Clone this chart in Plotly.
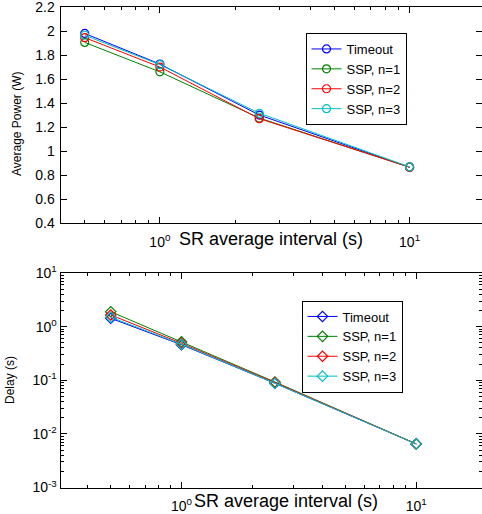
import plotly.graph_objects as go

# ---------------- data ----------------
sr_interval = [0.5, 1.0, 2.5, 10.0]
series_names = ["Timeout", "SSP, n=1", "SSP, n=2", "SSP, n=3"]
colors = ["#0000ff", "#008000", "#ff0000", "#00bfbf"]

power_timeout = [1.98, 1.725, 1.30, 0.865]
power_ssp1 = [1.905, 1.66, 1.275, 0.865]
power_ssp2 = [1.945, 1.70, 1.27, 0.865]
power_ssp3 = [1.965, 1.72, 1.315, 0.868]

delay_timeout = [1.43, 0.46, 0.088, 0.0065]
delay_ssp1 = [1.9, 0.52, 0.093, 0.0065]
delay_ssp2 = [1.65, 0.49, 0.091, 0.0065]
delay_ssp3 = [1.5, 0.47, 0.088, 0.0065]

power_series = [power_timeout, power_ssp1, power_ssp2, power_ssp3]
delay_series = [delay_timeout, delay_ssp1, delay_ssp2, delay_ssp3]

x_major_vals = [1, 10]
x_major_text = ["10<sup>0</sup>", "10<sup>1</sup>"]
x_minor_vals = [0.3, 0.4, 0.5, 0.6, 0.7, 0.8, 0.9, 2, 3, 4, 5, 6, 7, 8, 9, 20]
y1_major_vals = [0.4, 0.6, 0.8, 1.0, 1.2, 1.4, 1.6, 1.8, 2.0, 2.2]
y1_major_text = ["0.4", "0.6", "0.8", "1", "1.2", "1.4", "1.6", "1.8", "2", "2.2"]
y2_major_vals = [1e-3, 1e-2, 1e-1, 1, 10]
y2_major_text = ["10<sup>-3</sup>", "10<sup>-2</sup>", "10<sup>-1</sup>", "10<sup>0</sup>", "10<sup>1</sup>"]
y2_minor_vals = [m * 10 ** e for e in range(-3, 1) for m in range(2, 10)]

FONT = "Liberation Sans, Arial, Helvetica, sans-serif"
W, H = 482, 514

fig = go.Figure()

for name, col, ys in zip(series_names, colors, power_series):
    fig.add_trace(go.Scatter(
        x=sr_interval, y=ys, name=name, mode="lines+markers",
        line=dict(color=col, width=1),
        marker=dict(symbol="circle-open", size=8, color=col, line=dict(width=1.2)),
        xaxis="x", yaxis="y", legend="legend"))

for name, col, ys in zip(series_names, colors, delay_series):
    fig.add_trace(go.Scatter(
        x=sr_interval, y=ys, name=name, mode="lines+markers",
        line=dict(color=col, width=1),
        marker=dict(symbol="diamond-open", size=8, color=col, line=dict(width=1.2)),
        xaxis="x2", yaxis="y2", legend="legend2"))

common_axis = dict(showgrid=False, zeroline=False, showline=True, linecolor="black",
                   linewidth=1, mirror="allticks", ticks="inside", ticklen=6,
                   tickcolor="black", automargin=False, ticklabeloverflow="allow",
                   tickfont=dict(family=FONT, size=14, color="black"))

x_left = 60.5 / W
fig.update_layout(
    width=W, height=H,
    margin=dict(l=0, r=0, t=0, b=0),
    paper_bgcolor="white", plot_bgcolor="white",
    font=dict(family=FONT, color="black"),
    xaxis=dict(common_axis, type="log", domain=[x_left, 1.0],
               range=[-0.398, 1.29], anchor="y",
               tickmode="array", tickvals=x_major_vals, ticktext=x_major_text,
               ticklabelstandoff=6,
               minor=dict(tickmode="array", tickvals=x_minor_vals, ticks="inside",
                          ticklen=3, tickcolor="black")),
    yaxis=dict(common_axis, domain=[1 - 223 / H, 1 - 7 / H], range=[0.4, 2.2005],
               anchor="x", tickmode="array", tickvals=y1_major_vals,
               ticktext=y1_major_text, ticklabelstandoff=2),
    xaxis2=dict(common_axis, type="log", domain=[x_left, 1.0],
                range=[-0.515, 1.28], anchor="y2",
                tickmode="array", tickvals=x_major_vals, ticktext=x_major_text,
                ticklabelstandoff=6,
                minor=dict(tickmode="array", tickvals=x_minor_vals, ticks="inside",
                           ticklen=3, tickcolor="black")),
    yaxis2=dict(common_axis, type="log", domain=[1 - 487.5 / H, 1 - 273 / H],
                range=[-3, 1.0002], anchor="x2",
                tickmode="array", tickvals=y2_major_vals, ticktext=y2_major_text,
                ticklabelstandoff=0,
                minor=dict(tickmode="array", tickvals=y2_minor_vals, ticks="inside",
                           ticklen=3, tickcolor="black")),
    legend=dict(x=305.5 / W, y=1 - 33 / H, xanchor="left", yanchor="top",
                bordercolor="black", borderwidth=1, bgcolor="white",
                font=dict(family=FONT, size=13, color="black"),
                tracegroupgap=0),
    legend2=dict(x=301.5 / W, y=1 - 300.5 / H, xanchor="left", yanchor="top",
                 bordercolor="black", borderwidth=1, bgcolor="white",
                 font=dict(family=FONT, size=13, color="black"),
                 tracegroupgap=0),
    showlegend=True,
)

title_font = dict(family=FONT, size=18, color="black")
ytitle_font = dict(family=FONT, size=12, color="black")
fig.add_annotation(text="SR average interval (s)", xref="paper", yref="paper",
                   x=271 / W, y=1 - 239 / H, xanchor="center", yanchor="middle",
                   showarrow=False, font=title_font)
fig.add_annotation(text="SR average interval (s)", xref="paper", yref="paper",
                   x=286 / W, y=1 - 501 / H, xanchor="center", yanchor="middle",
                   showarrow=False, font=title_font)
fig.add_annotation(text="Average Power (W)", xref="paper", yref="paper",
                   x=17 / W, y=1 - 124 / H, xanchor="center", yanchor="middle",
                   textangle=-90, showarrow=False, font=ytitle_font)
fig.add_annotation(text="Delay (s)", xref="paper", yref="paper",
                   x=10 / W, y=1 - 380 / H, xanchor="center", yanchor="middle",
                   textangle=-90, showarrow=False, font=ytitle_font)

fig.write_html("out.html", config={"displayModeBar": False},
               post_script="document.body.style.margin='0';document.body.style.overflow='hidden';")
